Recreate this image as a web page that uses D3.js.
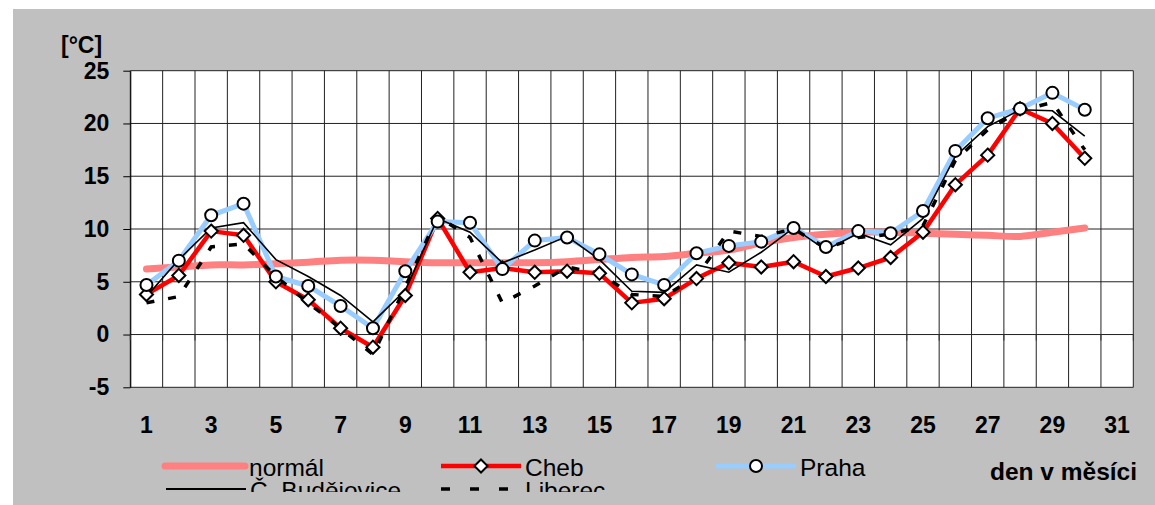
<!DOCTYPE html>
<html>
<head>
<meta charset="utf-8">
<script src="https://cdn.jsdelivr.net/npm/d3@7"></script>
<style>
  body { margin: 0; background: #fff; }
  text { font-family: "Liberation Sans", Arial, sans-serif; }
</style>
</head>
<body>
<div id="container"></div>
<script>
/* DATA */
const categories = d3.range(1, 32)          // 1..31 on the axis
const days = d3.range(1, 31)                // 30 days of data
const yTicks = [-5, 0, 5, 10, 15, 20, 25]

const normal = [6.2, 6.4, 6.6, 6.6, 6.7, 6.85, 7.05, 7.05, 6.9, 6.8, 6.8, 6.8, 6.8, 6.9, 7.1, 7.3, 7.4, 7.7, 8.0, 8.7, 9.2, 9.5, 9.7, 9.7, 9.6, 9.5, 9.4, 9.3, 9.7, 10.1]
const cheb = [3.8, 5.6, 9.8, 9.4, 5.0, 3.3, 0.6, -1.2, 3.7, 11.0, 5.9, 6.3, 5.9, 6.0, 5.8, 3.0, 3.4, 5.3, 6.8, 6.4, 6.9, 5.5, 6.3, 7.3, 9.7, 14.2, 17.0, 21.4, 20.0, 16.7]
const praha = [4.7, 7.0, 11.3, 12.4, 5.5, 4.6, 2.7, 0.6, 6.0, 10.7, 10.6, 6.2, 8.9, 9.2, 7.6, 5.7, 4.7, 7.7, 8.4, 8.8, 10.1, 8.3, 9.8, 9.6, 11.7, 17.4, 20.5, 21.4, 22.9, 21.3]
const budejovice = [3.6, 7.1, 10.1, 10.6, 7.1, 5.5, 3.7, 1.2, 4.2, 11.0, 9.7, 6.8, 8.0, 9.3, 7.1, 4.1, 4.0, 6.6, 5.9, 7.8, 10.1, 8.0, 9.6, 8.5, 11.0, 16.9, 19.7, 21.3, 21.2, 18.8]
const liberec = [3.0, 3.6, 8.3, 8.6, 5.5, 3.0, 0.6, -1.9, 4.5, 11.2, 9.2, 3.0, 4.6, 6.4, 5.8, 3.8, 3.6, 5.5, 9.8, 9.3, 10.0, 8.2, 9.2, 9.5, 10.3, 16.5, 19.4, 21.2, 22.0, 17.5]

/* CONSTANTS */
const width = 1155, height = 505
const plot = { left: 130.3, right: 1133.3, top: 70.7, bottom: 387.3 }

const svg = d3.select("#container")
  .append("svg")
  .attr("width", width)
  .attr("height", height)

// grey chart background
svg.append("rect")
  .attr("x", 13).attr("y", 9)
  .attr("width", width - 13).attr("height", height - 9)
  .attr("fill", "#c0c0c0")

// SCALES
const xScale = d3.scaleBand()
  .domain(categories)
  .range([plot.left, plot.right])
  .padding(0)
const bw = xScale.bandwidth()
const xc = d => xScale(d) + bw / 2

const yScale = d3.scaleLinear()
  .domain([-5, 25])
  .range([plot.bottom, plot.top])

// plot area
svg.append("rect")
  .attr("x", plot.left).attr("y", plot.top)
  .attr("width", plot.right - plot.left).attr("height", plot.bottom - plot.top)
  .attr("fill", "#fff")

// grid lines
const bounds = categories.map(d => xScale(d)).concat([plot.right])
svg.append("g")
  .selectAll("line")
  .data(bounds)
  .join("line")
  .attr("x1", d => d).attr("x2", d => d)
  .attr("y1", plot.top).attr("y2", plot.bottom)
  .attr("stroke", "#222").attr("stroke-width", 1)

svg.append("g")
  .selectAll("line")
  .data(yTicks)
  .join("line")
  .attr("x1", plot.left).attr("x2", plot.right)
  .attr("y1", d => yScale(d)).attr("y2", d => yScale(d))
  .attr("stroke", "#222").attr("stroke-width", 1)

// Y AXIS (plain hyphen for negatives, like the original)
const yAxis = d3.axisLeft(yScale)
  .tickValues(yTicks)
  .tickFormat(d => String(d))
  .tickSize(7)
  .tickSizeOuter(0)
  .tickPadding(14)
svg.append("g")
  .attr("class", "yAxis")
  .attr("transform", `translate(${plot.left},0)`)
  .call(yAxis)
  .call(g => g.selectAll("text")
    .attr("font-size", 23).attr("font-weight", "bold").attr("fill", "#000")
    .attr("font-family", "'Liberation Sans', Arial, sans-serif"))
  .call(g => g.selectAll("line,path").attr("stroke", "#000"))

// x axis ticks on the zero line (category boundaries)
svg.append("g")
  .selectAll("line")
  .data(bounds)
  .join("line")
  .attr("x1", d => d).attr("x2", d => d)
  .attr("y1", yScale(0)).attr("y2", yScale(0) + 6)
  .attr("stroke", "#333")

// x labels at the bottom
const xAxis = d3.axisBottom(xScale)
  .tickValues(categories.filter(d => d % 2 === 1))
  .tickSize(0)
  .tickPadding(0)
svg.append("g")
  .attr("class", "xAxis")
  .attr("transform", `translate(0,${plot.bottom + 29})`)
  .call(xAxis)
  .call(g => g.select(".domain").remove())
  .call(g => g.selectAll("text")
    .attr("font-size", 23).attr("font-weight", "bold").attr("fill", "#000")
    .attr("font-family", "'Liberation Sans', Arial, sans-serif"))

// unit label
svg.append("text")
  .attr("x", 61).attr("y", 53)
  .attr("font-size", 23).attr("font-weight", "bold")
  .text("[°C]")

// LINES
const lineGen = d3.line()
  .x((d, i) => xc(days[i]))
  .y(d => yScale(d))

const smoothGen = d3.line()
  .x((d, i) => xc(days[i]))
  .y(d => yScale(d))
  .curve(d3.curveCatmullRom)

svg.append("path")
  .attr("d", smoothGen(normal))
  .attr("fill", "none").attr("stroke", "#ff8080")
  .attr("stroke-width", 7).attr("stroke-linecap", "round").attr("stroke-linejoin", "round")

svg.append("path")
  .attr("d", lineGen(cheb))
  .attr("fill", "none").attr("stroke", "#ff0000")
  .attr("stroke-width", 4.5).attr("stroke-linejoin", "round")

svg.append("path")
  .attr("d", lineGen(praha))
  .attr("fill", "none").attr("stroke", "#99ccff")
  .attr("stroke-width", 5).attr("stroke-linejoin", "round")

svg.append("path")
  .attr("d", lineGen(budejovice))
  .attr("fill", "none").attr("stroke", "#000")
  .attr("stroke-width", 1.6)

svg.append("path")
  .attr("d", lineGen(liberec))
  .attr("fill", "none").attr("stroke", "#000")
  .attr("stroke-width", 3.5).attr("stroke-dasharray", "8,14")

// markers
const diamond = d3.symbol().type(d3.symbolDiamond2).size(110)
svg.append("g")
  .selectAll("path")
  .data(cheb)
  .join("path")
  .attr("d", diamond)
  .attr("transform", (d, i) => `translate(${xc(days[i])},${yScale(d)})`)
  .attr("fill", "#fff").attr("stroke", "#000").attr("stroke-width", 2)

svg.append("g")
  .selectAll("circle")
  .data(praha)
  .join("circle")
  .attr("cx", (d, i) => xc(days[i]))
  .attr("cy", d => yScale(d))
  .attr("r", 6)
  .attr("fill", "#fff").attr("stroke", "#000").attr("stroke-width", 2)

// LEGEND (clipped at the bottom like the original)
svg.append("clipPath").attr("id", "legclip")
  .append("rect").attr("x", 0).attr("y", 440).attr("width", width).attr("height", 52)

const legend = svg.append("g").attr("clip-path", "url(#legclip)")
const legendItems = [
  { name: "normál", x: 165, y: 466, color: "#ff8080", w: 7, cap: "round" },
  { name: "Cheb", x: 441, y: 466, color: "#ff0000", w: 4.5, marker: "diamond" },
  { name: "Praha", x: 716, y: 466, color: "#99ccff", w: 5, marker: "circle" },
  { name: "Č. Budějovice", x: 166, y: 489, color: "#000", w: 2 },
  { name: "Liberec", x: 441, y: 489, color: "#000", w: 3.5, dash: "9,20" }
]
legendItems.forEach(it => {
  legend.append("line")
    .attr("x1", it.x).attr("x2", it.x + 80)
    .attr("y1", it.y).attr("y2", it.y)
    .attr("stroke", it.color).attr("stroke-width", it.w)
    .attr("stroke-linecap", it.cap || "butt")
    .attr("stroke-dasharray", it.dash || null)
  if (it.marker === "diamond") {
    legend.append("path").attr("d", diamond)
      .attr("transform", `translate(${it.x + 40},${it.y})`)
      .attr("fill", "#fff").attr("stroke", "#000").attr("stroke-width", 2)
  }
  if (it.marker === "circle") {
    legend.append("circle").attr("cx", it.x + 40).attr("cy", it.y).attr("r", 6)
      .attr("fill", "#fff").attr("stroke", "#000").attr("stroke-width", 2)
  }
  legend.append("text")
    .attr("x", it.x + 84).attr("y", it.y + 10)
    .attr("font-size", 24.5)
    .text(it.name)
})

svg.append("text")
  .attr("x", 1137).attr("y", 480)
  .attr("text-anchor", "end")
  .attr("font-size", 24.5).attr("font-weight", "bold")
  .text("den v měsíci")
</script>
</body>
</html>
